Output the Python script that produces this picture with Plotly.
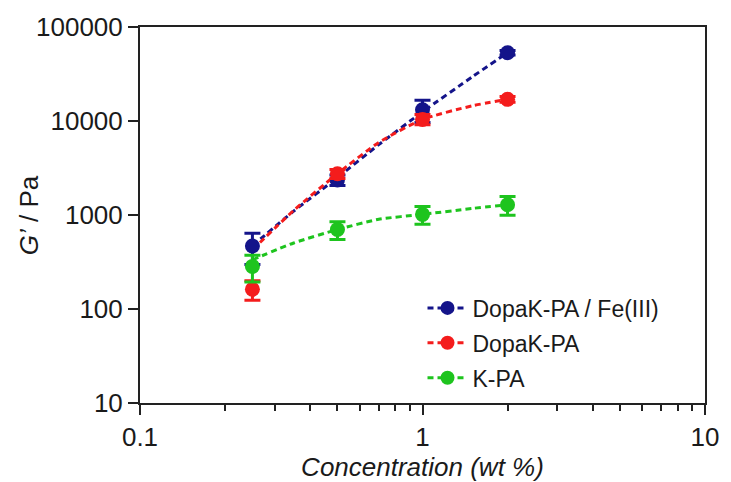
import plotly.graph_objects as go

# Measured storage modulus G' (Pa) vs concentration (wt %), with standard deviations
conc = [0.25, 0.5, 1, 2]

fe_g = [468, 2360, 13150, 53300]
fe_err = [170, 300, 3500, 3000]

dopa_g = [162, 2750, 10400, 17000]
dopa_err = [38, 300, 1300, 1200]

kpa_g = [284, 700, 1015, 1285]
kpa_err = [90, 150, 220, 290]

# Fitted trend curves, sampled along the concentration range
fit_conc = [0.25, 0.35, 0.5, 0.7, 1, 1.5, 2]
fe_fit = [470, 1100, 2500, 5600, 12500, 29500, 53300]
dopa_fit = [426, 1117, 2750, 5900, 10400, 14500, 17000]
kpa_fit = [334, 504, 700, 900, 1015, 1175, 1285]

series = [
    ("DopaK-PA / Fe(III)", fe_g, fe_err, fe_fit, "#14148a"),
    ("DopaK-PA", dopa_g, dopa_err, dopa_fit, "#f41c1c"),
    ("K-PA", kpa_g, kpa_err, kpa_fit, "#1ec41e"),
]

DASH = "6px,4px"
fig = go.Figure()

# dashed fit curves
for name, g, err, fit, color in series:
    fig.add_trace(go.Scatter(
        x=fit_conc, y=fit, name=name, legendgroup=name, mode="lines", showlegend=False,
        line=dict(color=color, width=3, dash=DASH, shape="spline", smoothing=0.6),
        hoverinfo="skip",
    ))

# measured points with error bars
for name, g, err, fit, color in series:
    fig.add_trace(go.Scatter(
        x=conc, y=g, name=name, legendgroup=name, mode="markers", showlegend=False,
        marker=dict(color=color, size=15),
        error_y=dict(type="data", array=err, visible=True, color=color,
                     thickness=3, width=8),
    ))

# legend keys: dashed line with a filled circle
for name, g, err, fit, color in series:
    fig.add_trace(go.Scatter(
        x=[None], y=[None], name=name, legendgroup=name, mode="lines+markers",
        line=dict(color=color, width=3, dash=DASH),
        marker=dict(color=color, size=14),
    ))

axis_font = dict(family="Arial, Liberation Sans, sans-serif", size=26, color="#1a1a1a")
title_font = dict(family="Arial, Liberation Sans, sans-serif", size=26, color="#1a1a1a")

fig.update_layout(
    width=731, height=482,
    margin=dict(l=140, r=19, t=24, b=77),
    paper_bgcolor="white", plot_bgcolor="white",
    font=dict(family="Arial, Liberation Sans, sans-serif", color="#1a1a1a"),
    showlegend=True,
    legend=dict(x=0.5, y=0.31, xanchor="left", yanchor="top",
                font=dict(size=23, color="#1a1a1a"), bgcolor="rgba(0,0,0,0)",
                tracegroupgap=2, itemwidth=40),
    xaxis=dict(
        type="log", range=[-1, 1], dtick=1,
        showline=True, linecolor="#222", linewidth=2, mirror=True,
        ticks="outside", ticklen=10, tickwidth=2, tickcolor="#222",
        minor=dict(ticks="outside", ticklen=6, tickwidth=2, tickcolor="#222", showgrid=False),
        showgrid=False, zeroline=False, tickfont=axis_font,
        title=dict(text="<i>Concentration (wt %)</i>", font=title_font, standoff=0),
    ),
    yaxis=dict(
        type="log", range=[1, 5], dtick=1, tickformat="d",
        showline=True, linecolor="#222", linewidth=2, mirror=True,
        ticks="outside", ticklen=10, tickwidth=2, tickcolor="#222",
        showgrid=False, zeroline=False, tickfont=axis_font,
    ),
    annotations=[dict(
        text="<i>G’</i> / Pa", textangle=-90, showarrow=False,
        xref="paper", yref="paper", x=-0.196, y=0.5,
        xanchor="center", yanchor="middle", font=title_font,
    )],
)

fig.write_html("out.html")
